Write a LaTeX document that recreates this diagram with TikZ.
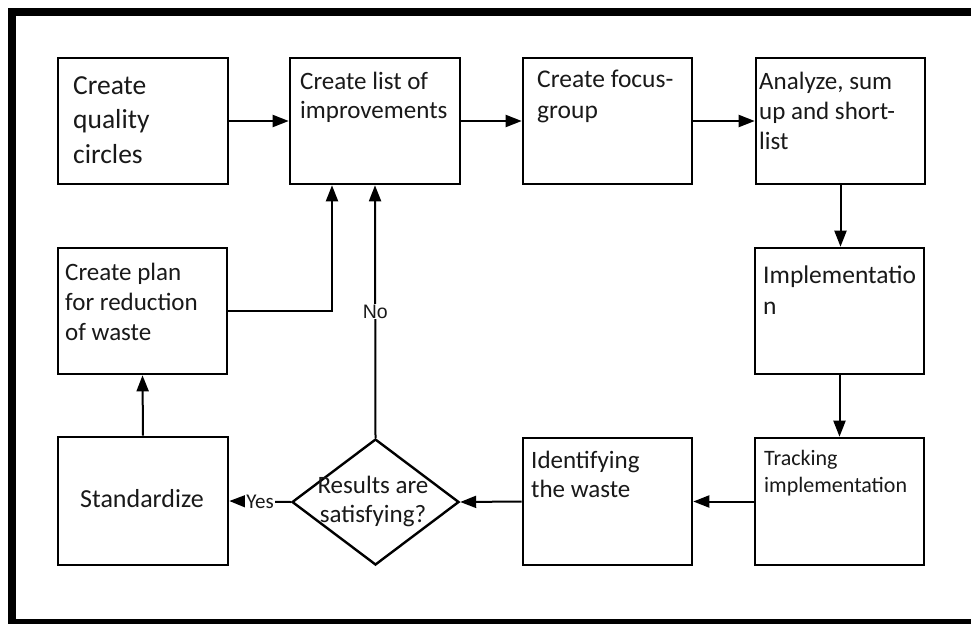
\documentclass[tikz,border=0pt]{standalone}
\usepackage{fontspec}
\setmainfont{Carlito}
\newfontfamily\labelsans{Liberation Sans}
\usetikzlibrary{arrows.meta,shapes.geometric,calc}

\tikzset{
  procbox/.style={draw=black, line width=2.6pt, fill=white, minimum width=170pt, minimum height=126pt, inner sep=0pt},
  decision/.style={draw=black, diamond, line width=2.4pt, fill=white, minimum width=167pt, minimum height=126pt, inner sep=0pt},
  % anchored at the baseline of the last line
  txt/.style={inner sep=0pt, align=left, anchor=base west, text=black!90, font=\fontsize{25}{29.5}\selectfont},
  flow/.style={line width=2pt, -{Triangle[length=16pt,width=12pt]}},
  tag/.style={fill=white, inner sep=1pt, text=black!90}
}

\begin{document}
\begin{tikzpicture}[x=1pt,y=-1pt]
\useasboundingbox (0,0) rectangle (971,624);
\fill[white] (-40,-40) rectangle (1040,680);

% outer frame, open on the right
\fill[black] (8,8) rectangle (971,16);
\fill[black] (8,8) rectangle (16,624);
\fill[black] (8,619) rectangle (971,624);

% process boxes
\node[procbox] (b1) at (143,121) {};
\node[procbox] (b2) at (375,121) {};
\node[procbox, minimum width=169pt] (b3) at (607.5,121) {};
\node[procbox, minimum width=169pt] (b4) at (840.5,121) {};
\node[procbox, minimum width=169pt] (plan) at (142.5,311) {};
\node[procbox, minimum width=169pt] (impl) at (839.5,311) {};
\node[procbox, minimum height=128pt] (std) at (143,501) {};
\node[procbox, minimum width=169pt, minimum height=127pt] (ident) at (607.5,501.5) {};
\node[procbox, minimum width=169pt, minimum height=127pt] (track) at (839.5,501.5) {};
\node[decision] (dia) at (375.5,502) {};

% box texts
\node[txt, font=\fontsize{27.5}{34.5}\selectfont] (t1) at (73,163) {Create\\quality\\circles};
\node[txt] (t2) at (300,118.5) {Create list of\\improvements};
\node[txt, font=\fontsize{25.5}{31}\selectfont] (t3) at (537,118) {Create focus-\\group};
\node[txt, font=\fontsize{25}{30}\selectfont] (t4) at (759,149) {Analyze, sum\\up and short-\\list};
\node[txt, font=\fontsize{25}{30}\selectfont] (t5) at (65,340) {Create plan\\for reduction\\of waste};
\node[txt, font=\fontsize{25.5}{31}\selectfont] (t6) at (763,314) {Implementatio\\n};
\node[txt, font=\fontsize{25}{29}\selectfont] (t7) at (531,497) {Identifying\\the waste};
\node[txt, font=\fontsize{22}{27}\selectfont] (t8) at (764,492) {Tracking\\implementation};
\node[txt, font=\fontsize{26}{30}\selectfont] (t9) at (80,507) {Standardize};
\node[txt, align=center, anchor=base, font=\fontsize{25}{29}\selectfont] (t10) at (373,522) {Results are\\satisfying?};

% connectors
\draw[flow] (b1) -- (b2);
\draw[flow] (b2) -- (b3);
\draw[flow] (b3) -- (b4);
\draw[flow] (b4.south) -- (b4.south |- impl.north);
\draw[flow] (impl.south) -- (impl.south |- track.north);
\draw[flow] (track.west) -- (ident.east);
\draw[flow] (ident.west) -- (dia.east);
\draw[flow] (dia.west) -- node[tag, font=\fontsize{21}{24}\selectfont]{Yes} (std.east);
\draw[flow] (dia.north) -- node[tag, font=\labelsans\fontsize{19.5}{24}\selectfont]{No} (b2.south);
\draw[flow] (plan.east) -| ($(b2.south)+(-43,0)$);
\draw[flow] (std.north) -- (plan.south);
\end{tikzpicture}
\end{document}
